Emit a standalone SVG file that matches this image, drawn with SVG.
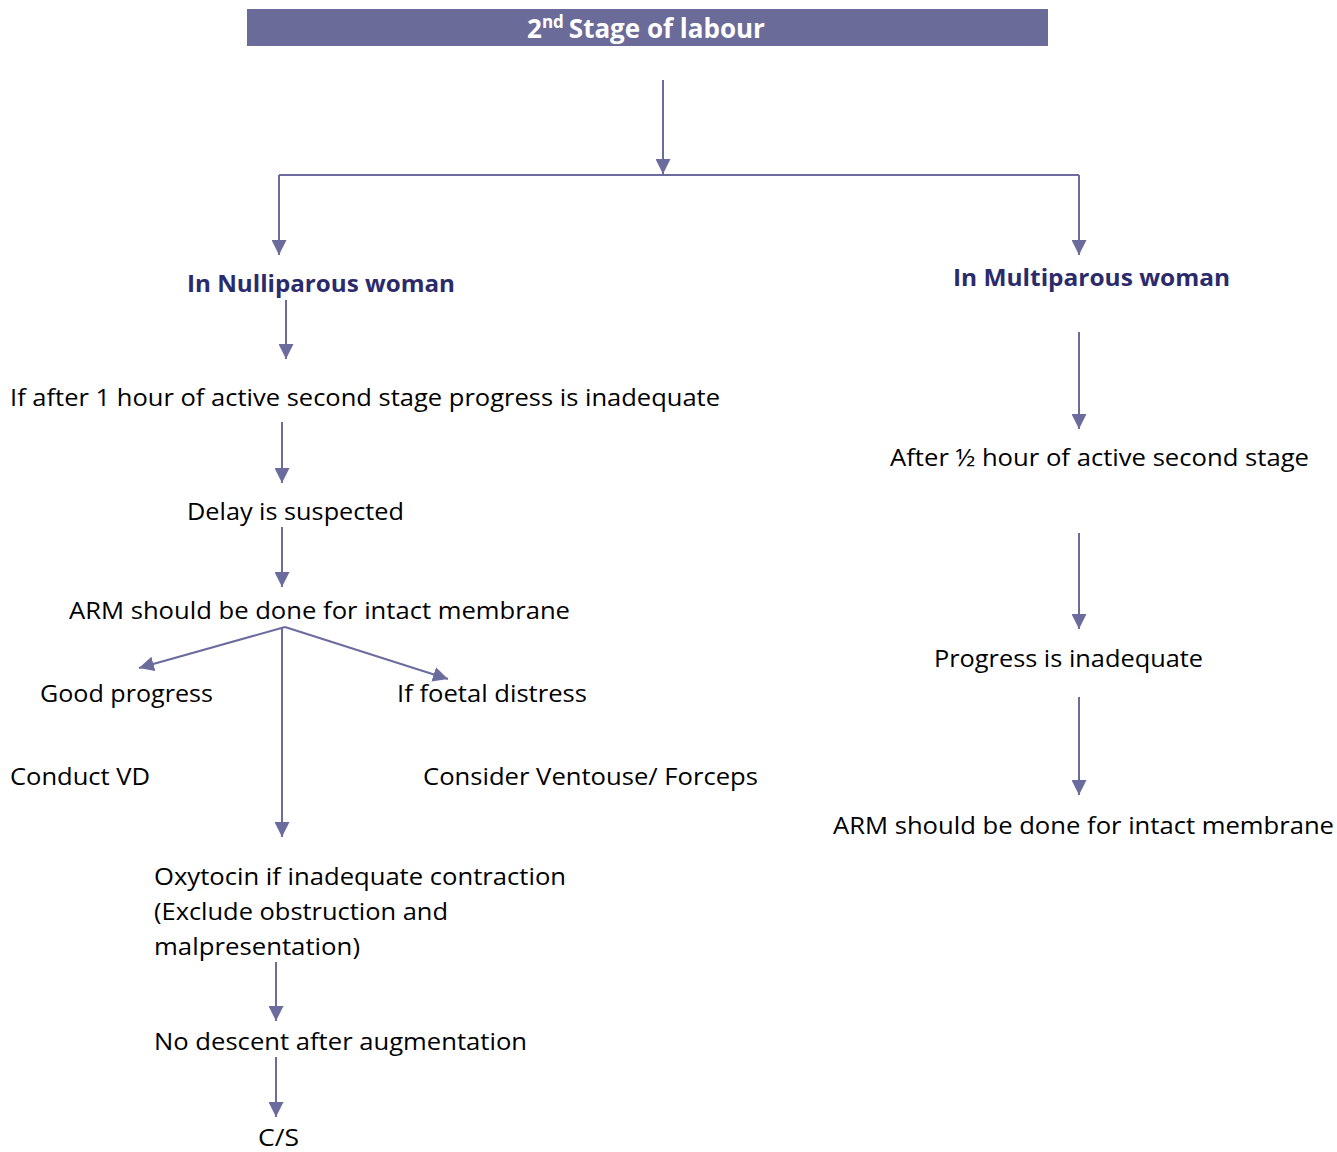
<svg xmlns="http://www.w3.org/2000/svg" width="1337" height="1152" viewBox="0 0 1337 1152">
  <style>
    .t { font-family: "Open Sans", "Liberation Sans", sans-serif; font-size: 24px; fill: #000; }
    .h { font-family: "Open Sans", "Liberation Sans", sans-serif; font-size: 24px; font-weight: bold; fill: #2b2b6b; }
    .title { font-family: "Open Sans", "Liberation Sans", sans-serif; font-size: 26px; font-weight: bold; fill: #fff; }
    .c { stroke: #6b6b9e; stroke-width: 2; fill: none; }
  </style>
  <defs>
    <marker id="arrow" viewBox="0 0 15 15" refX="15" refY="7.5" markerWidth="15" markerHeight="15" markerUnits="userSpaceOnUse" orient="auto">
      <path d="M0,0 L15,7.5 L0,15 Z" fill="#6b6b9e"/>
    </marker>
  </defs>

  <!-- title bar -->
  <g id="title">
    <rect x="247" y="9" width="801" height="37" fill="#6b6b99"/>
    <text class="title" x="527" y="38">2<tspan font-size="17" dy="-10">nd</tspan><tspan dy="10" dx="5">Stage of labour</tspan></text>
  </g>

  <!-- connectors -->
  <g id="connectors">
    <path class="c" d="M663,80 V174" marker-end="url(#arrow)"/>
    <path class="c" d="M279,175 H1079"/>
    <path class="c" d="M279,175 V255" marker-end="url(#arrow)"/>
    <path class="c" d="M1079,175 V255" marker-end="url(#arrow)"/>
    <path class="c" d="M286,300 V359" marker-end="url(#arrow)"/>
    <path class="c" d="M282,422 V483" marker-end="url(#arrow)"/>
    <path class="c" d="M282,527 V587" marker-end="url(#arrow)"/>
    <path class="c" d="M285,627 L139,668" marker-end="url(#arrow)"/>
    <path class="c" d="M285,627 L448,679" marker-end="url(#arrow)"/>
    <path class="c" d="M282,627 V837" marker-end="url(#arrow)"/>
    <path class="c" d="M276,962 V1021" marker-end="url(#arrow)"/>
    <path class="c" d="M276,1057 V1117" marker-end="url(#arrow)"/>
    <path class="c" d="M1079,332 V429" marker-end="url(#arrow)"/>
    <path class="c" d="M1079,533 V629" marker-end="url(#arrow)"/>
    <path class="c" d="M1079,697 V795" marker-end="url(#arrow)"/>
  </g>

  <!-- left branch -->
  <g id="nulliparous"><text class="h" x="187" y="292" textLength="268" lengthAdjust="spacingAndGlyphs">In Nulliparous woman</text></g>
  <g id="after-1-hour"><text class="t" x="10" y="406" textLength="710" lengthAdjust="spacingAndGlyphs">If after 1 hour of active second stage progress is inadequate</text></g>
  <g id="delay"><text class="t" x="187" y="520" textLength="217" lengthAdjust="spacingAndGlyphs">Delay is suspected</text></g>
  <g id="arm-left"><text class="t" x="69" y="619" textLength="501" lengthAdjust="spacingAndGlyphs">ARM should be done for intact membrane</text></g>
  <g id="good-progress"><text class="t" x="40" y="702" textLength="173" lengthAdjust="spacingAndGlyphs">Good progress</text></g>
  <g id="foetal-distress"><text class="t" x="397" y="702" textLength="190" lengthAdjust="spacingAndGlyphs">If foetal distress</text></g>
  <g id="conduct-vd"><text class="t" x="10" y="785" textLength="140" lengthAdjust="spacingAndGlyphs">Conduct VD</text></g>
  <g id="ventouse"><text class="t" x="423" y="785" textLength="335" lengthAdjust="spacingAndGlyphs">Consider Ventouse/ Forceps</text></g>
  <g id="oxytocin">
    <text class="t" x="154" y="885" textLength="412" lengthAdjust="spacingAndGlyphs">Oxytocin if inadequate contraction</text>
    <text class="t" x="154" y="920" textLength="294" lengthAdjust="spacingAndGlyphs">(Exclude obstruction and</text>
    <text class="t" x="154" y="955" textLength="206" lengthAdjust="spacingAndGlyphs">malpresentation)</text>
  </g>
  <g id="no-descent"><text class="t" x="154" y="1050" textLength="373" lengthAdjust="spacingAndGlyphs">No descent after augmentation</text></g>
  <g id="cs"><text class="t" x="258" y="1146" textLength="41" lengthAdjust="spacingAndGlyphs">C/S</text></g>

  <!-- right branch -->
  <g id="multiparous"><text class="h" x="953" y="286" textLength="277" lengthAdjust="spacingAndGlyphs">In Multiparous woman</text></g>
  <g id="half-hour"><text class="t" x="890" y="466" textLength="419" lengthAdjust="spacingAndGlyphs">After ½ hour of active second stage</text></g>
  <g id="progress-inadequate"><text class="t" x="934" y="667" textLength="269" lengthAdjust="spacingAndGlyphs">Progress is inadequate</text></g>
  <g id="arm-right"><text class="t" x="833" y="834" textLength="501" lengthAdjust="spacingAndGlyphs">ARM should be done for intact membrane</text></g>
</svg>
